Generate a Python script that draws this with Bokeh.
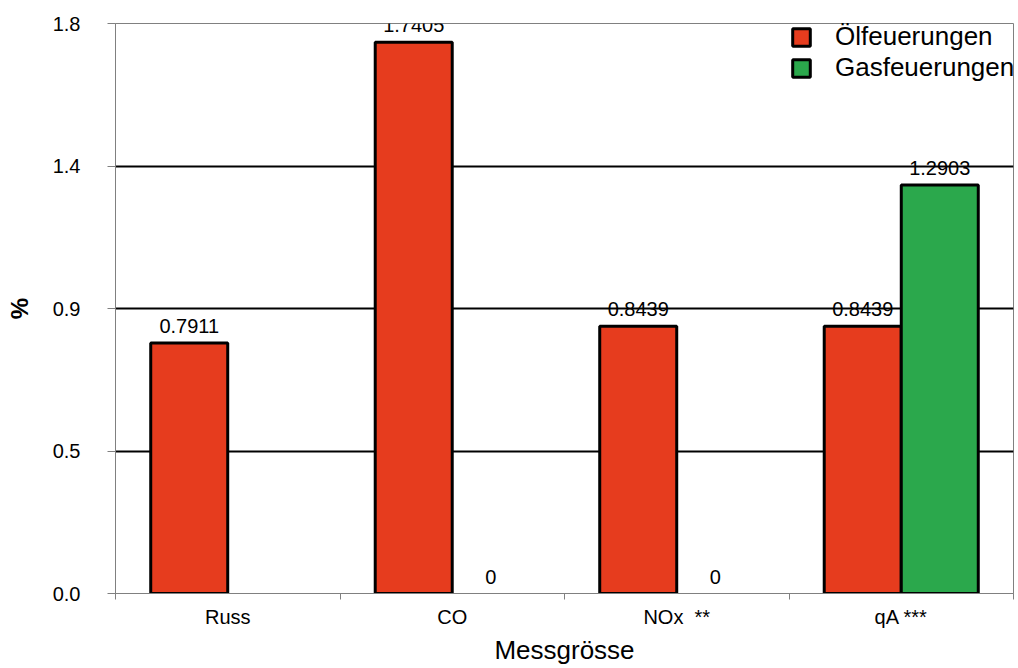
from bokeh.plotting import figure
from bokeh.models import Range1d, FixedTicker, ColumnDataSource, LabelSet, Legend, LegendItem
from bokeh.core.properties import value
from bokeh.embed import file_html
from bokeh.resources import INLINE

categories = ["Russ", "CO", "NOx\u00a0\u00a0**", "qA ***"]
oil = [0.7911, 1.7405, 0.8439, 0.8439]
gas = [None, 0.0, 0.0, 1.2903]
series_names = ["Ölfeuerungen", "Gasfeuerungen"]
y_ticks = [0.0, 0.45, 0.9, 1.35, 1.8]
y_tick_labels = ["0.0", "0.5", "0.9", "1.4", "1.8"]
y_max = 1.8

RED = "#E63C1E"
GREEN = "#2BA84C"
GRAY = "#808080"
FONT = "Liberation Sans"

n = len(categories)
centers = [i + 0.5 for i in range(n)]
off = 0.1716
bw = 0.343

p = figure(width=1018, height=668, x_range=Range1d(0, n), y_range=Range1d(0, y_max),
           output_backend="svg", toolbar_location=None,
           min_border_left=115, min_border_right=5, min_border_top=23, min_border_bottom=75)
p.background_fill_color = "white"
p.border_fill_color = "white"
p.outline_line_color = GRAY
p.outline_line_width = 1

# bars (only non-empty, non-zero values are drawn as bars)
oil_src = ColumnDataSource(dict(
    x=[c - off for c, v in zip(centers, oil) if v],
    top=[v for v in oil if v]))
gas_src = ColumnDataSource(dict(
    x=[c + off for c, v in zip(centers, gas) if v],
    top=[v for v in gas if v]))
r_oil = p.vbar(x="x", top="top", bottom=0, width=bw, source=oil_src,
               fill_color=RED, line_color="black", line_width=3)
r_gas = p.vbar(x="x", top="top", bottom=0, width=bw, source=gas_src,
               fill_color=GREEN, line_color="black", line_width=3)

# value labels
lx, ly, lt = [], [], []
for c, v in zip(centers, oil):
    if v is not None:
        lx.append(c - off); ly.append(v); lt.append(f"{v:g}")
for c, v in zip(centers, gas):
    if v is not None:
        lx.append(c + off); ly.append(v); lt.append(f"{v:g}")
lab_src = ColumnDataSource(dict(x=lx, y=ly, text=lt))
labels = LabelSet(x="x", y="y", text="text", source=lab_src, text_align="center",
                  text_baseline="alphabetic", y_offset=10, text_font=value(FONT),
                  text_font_size="20px", text_color="black")
p.add_layout(labels)

# grid
p.xgrid.visible = False
p.ygrid.ticker = FixedTicker(ticks=[t for t in y_ticks if 0 < t < y_max])
p.ygrid.grid_line_color = "black"
p.ygrid.grid_line_width = 2

# y axis
ya = p.yaxis[0]
ya.ticker = FixedTicker(ticks=y_ticks)
ya.major_label_overrides = {t: s for t, s in zip(y_ticks, y_tick_labels)}
ya.major_tick_out = 8
ya.major_tick_in = 0
ya.minor_tick_out = 0
ya.minor_tick_in = 0
ya.major_tick_line_color = GRAY
ya.axis_line_color = GRAY
ya.major_label_standoff = 27
ya.major_label_text_font = FONT
ya.major_label_text_font_size = "20px"
ya.major_label_text_color = "black"
ya.axis_label = "%"
ya.axis_label_text_font = FONT
ya.axis_label_text_font_size = "24px"
ya.axis_label_text_font_style = "bold"
ya.axis_label_text_color = "black"
ya.axis_label_standoff = 17

# x axis
xa = p.xaxis[0]
xa.ticker = FixedTicker(ticks=centers, minor_ticks=list(range(n + 1)))
xa.major_label_overrides = {c: s for c, s in zip(centers, categories)}
xa.major_tick_out = 0
xa.major_tick_in = 0
xa.minor_tick_out = 6
xa.minor_tick_in = 0
xa.minor_tick_line_color = GRAY
xa.axis_line_color = GRAY
xa.major_label_standoff = 6
xa.major_label_text_font = FONT
xa.major_label_text_font_size = "20px"
xa.major_label_text_color = "black"
xa.axis_label = "Messgrösse"
xa.axis_label_text_font = FONT
xa.axis_label_text_font_size = "26px"
xa.axis_label_text_font_style = "normal"
xa.axis_label_text_color = "black"
xa.axis_label_standoff = 4

# legend
legend = Legend(items=[LegendItem(label=series_names[0], renderers=[r_oil]),
                       LegendItem(label=series_names[1], renderers=[r_gas])],
                location=(675, 510), padding=0, margin=0, spacing=-3,
                glyph_width=22, glyph_height=22, label_standoff=23,
                label_text_font=FONT, label_text_font_size="26px", label_text_color="black",
                border_line_alpha=0, background_fill_alpha=0)
p.add_layout(legend)

open("out.html", "w").write(file_html(p, INLINE))
